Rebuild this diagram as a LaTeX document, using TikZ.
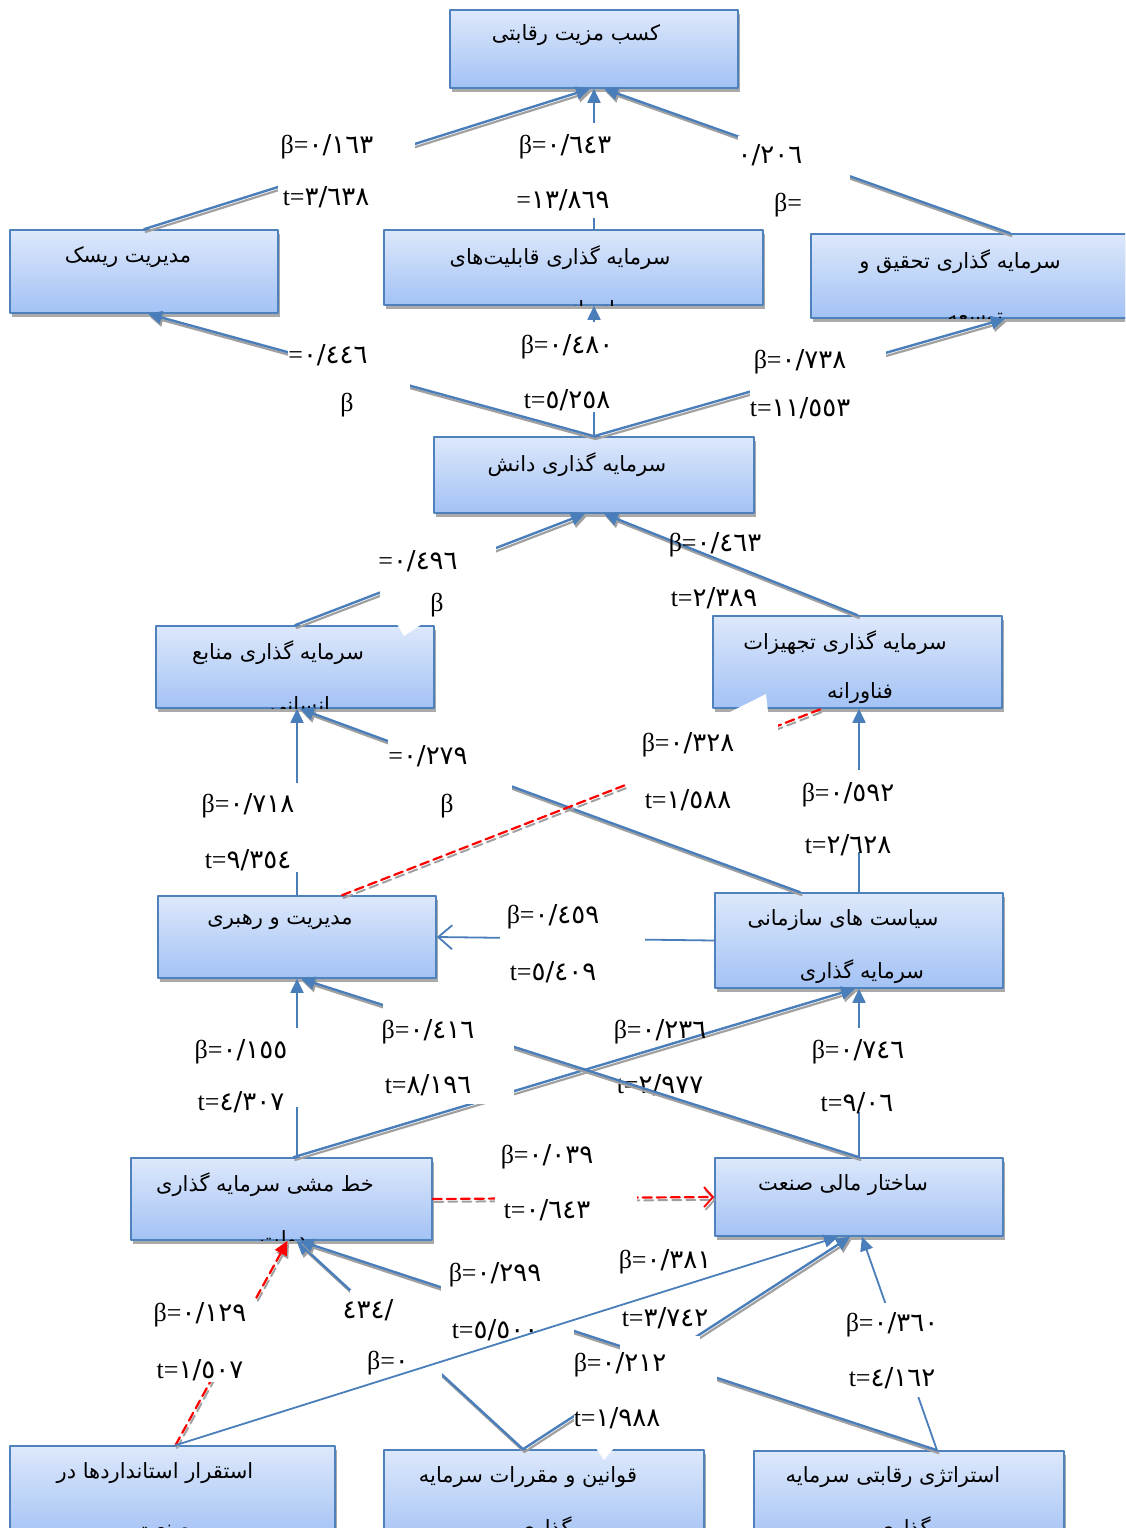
\documentclass[tikz,border=0pt]{standalone}
\usepackage{fontspec}
\setmainfont{Liberation Serif}
\newfontfamily\arabicfont[Script=Arabic]{DejaVu Sans}
\TeXXeTstate=1
\usetikzlibrary{arrows.meta,fit}
\definecolor{linkblue}{RGB}{74,126,187}
\definecolor{boxline}{RGB}{79,129,189}
\definecolor{boxtop}{RGB}{221,232,251}
\definecolor{boxbot}{RGB}{163,194,245}
\definecolor{shade}{RGB}{160,160,160}
\newcommand{\fa}[1]{{\arabicfont #1}}

\begin{document}
\begin{tikzpicture}[line cap=round,line join=round,x=1pt,y=-1pt,
  box/.style={draw=boxline,line width=1.6pt,top color=boxtop,bottom color=boxbot,inner sep=0pt,
    preaction={fill=shade!90,transform canvas={shift={(2pt,-4pt)}}}},
  btxt/.style={font=\arabicfont\fontsize{21}{25}\selectfont,inner sep=0pt},
  lbl/.style={font=\fontsize{26}{30}\selectfont,inner sep=0pt},
  gap/.style={fill=white,inner sep=0pt},
  link/.style={draw=linkblue,line width=1.8pt,-{Triangle[length=14pt,width=13pt]}},
  slink/.style={link,line width=2.4pt,preaction={draw=shade,line width=2.2pt,transform canvas={shift={(1.5pt,-2.8pt)}}}},
  dlink/.style={draw=red,line width=2.2pt,dash pattern=on 9pt off 5pt,
    preaction={draw=shade,line width=2pt,dash pattern=on 9pt off 5pt,transform canvas={shift={(1.5pt,-2.8pt)}}}},
  chev/.style={-{Straight Barb[length=14pt,width=24pt,line width=1.8pt]}}]
\useasboundingbox (0,0) rectangle (1125,1528);
\clip (0,0) rectangle (1125,1528);

% boxes
\node[box,minimum width=288pt,minimum height=78pt] (adv) at (594,49) {};
\node[box,minimum width=268pt,minimum height=83pt] (risk) at (144,271.5) {};
\node[box,minimum width=379pt,minimum height=75pt] (cap) at (573.5,267.5) {};
\node[box,minimum width=398pt,minimum height=84pt] (rd) at (1010,276) {};
\node[box,minimum width=320pt,minimum height=76pt] (know) at (594,475) {};
\node[box,minimum width=278pt,minimum height=82pt] (hum) at (295,667) {};
\node[box,minimum width=289pt,minimum height=92pt] (equip) at (857.5,662) {};
\node[box,minimum width=278pt,minimum height=82pt] (lead) at (297,937) {};
\node[box,minimum width=288pt,minimum height=95pt] (policy) at (859,940.5) {};
\node[box,minimum width=301pt,minimum height=82pt] (gov) at (281.5,1199) {};
\node[box,minimum width=288pt,minimum height=78pt] (fin) at (859,1197) {};
\node[box,minimum width=325pt,minimum height=94pt] (std) at (172.5,1493) {};
\node[box,minimum width=320pt,minimum height=95pt] (law) at (544,1497.5) {};
\node[box,minimum width=310pt,minimum height=94pt] (strat) at (909,1498) {};
\fill[white] (397,624) -- (422,624) -- (404,636) -- cycle;
\fill[white] (730,712) -- (768,712) -- (766,694) -- cycle;
\fill[white] (596,1448) -- (614,1448) -- (604,1460) -- cycle;

% box texts
\node[btxt] (advT) at (576,35) {\beginR کسب مزیت رقابتی\endR};
\node[btxt] (riskT) at (128,257) {\beginR مدیریت ریسک\endR};
\node[btxt] (capT) at (560,258) {\beginR سرمایه گذاری قابلیت‌های\endR};
\node[btxt] (rdT) at (960,262) {\beginR سرمایه گذاری تحقیق و\endR};
\node[btxt] (knowT) at (577,465) {\beginR سرمایه گذاری دانش\endR};
\node[btxt] (humT) at (278,653) {\beginR سرمایه گذاری منابع\endR};
\node[btxt] (equipT) at (845,643) {\beginR سرمایه گذاری تجهیزات\endR};
\node[btxt] (equipU) at (860,693) {\beginR فناورانه\endR};
\node[btxt] (leadT) at (280,922) {\beginR مدیریت و رهبری\endR};
\node[btxt] (policyT) at (843,920) {\beginR سیاست های سازمانی\endR};
\node[btxt] (policyU) at (862,972) {\beginR سرمایه گذاری\endR};
\node[btxt] (govT) at (265,1185) {\beginR خط مشی سرمایه گذاری\endR};
\node[btxt] (finT) at (843,1185) {\beginR ساختار مالی صنعت\endR};
\node[btxt] (stdT) at (155,1473) {\beginR استقرار استانداردها در\endR};
\node[btxt] (lawT) at (528,1477) {\beginR قوانین و مقررات سرمایه\endR};
\node[btxt] (stratT) at (893,1477) {\beginR استراتژی رقابتی سرمایه\endR};
\node[btxt,anchor=base] (stdU) at (163,1535) {\beginR صنعت\endR};
\node[btxt,anchor=base] (lawU) at (545,1535) {\beginR گذاری\endR};
\node[btxt,anchor=base] (stratU) at (904,1535) {\beginR گذاری\endR};
\begin{scope}
\clip (cap.south west) rectangle (cap.north east);
\node[btxt,anchor=base] (capU) at (585,316) {\beginR انسانی\endR};
\end{scope}
\begin{scope}
\clip (rd.south west) rectangle (rd.north east);
\node[btxt,anchor=base] (rdU) at (975,323) {\beginR توسعه\endR};
\end{scope}
\begin{scope}
\clip (hum.south west) rectangle (hum.north east);
\node[btxt,anchor=base] (humU) at (300,712) {\beginR انسانی\endR};
\end{scope}
\begin{scope}
\clip (gov.south west) rectangle (gov.north east);
\node[btxt,anchor=base] (govU) at (283,1246) {\beginR دولت\endR};
\end{scope}

% paths to the top box
\draw[slink] (risk.north) -- ([xshift=-4pt]adv.south);
\node[gap,fit={(278,132) (415,210)}] (g1) {};
\node[lbl] (b1) at (327,147) {β=\fa{٠/١٦٣}};
\node[lbl] (t1) at (326,197) {t=\fa{٣/٦٣٨}};
\draw[link] (cap.north -| adv.south) -- (adv.south);
\node[gap,fit={(515,123) (616,218)}] (g2) {};
\node[lbl] (b2) at (565,147) {β=\fa{٠/٦٤٣}};
\node[lbl] (t2) at (563,200) {=\fa{١٣/٨٦٩}};
\draw[slink] (rd.north) -- ([xshift=10pt]adv.south);
\node[gap,fit={(738,136) (850,215)}] (g3) {};
\node[lbl] (b3) at (770,155) {\fa{٠/٢٠٦}};
\node[lbl] (t3) at (788,205) {β=};

% paths from knowledge
\draw[slink] (know.north) -- ([xshift=4pt]risk.south);
\node[gap,fit={(288,335) (410,420)}] (g4) {};
\node[lbl] (b4) at (328,355) {=\fa{٠/٤٤٦}};
\node[lbl] (t4) at (347,405) {β};
\draw[link] (know.north) -- (know.north |- cap.south);
\node[gap,fit={(520,322) (616,412)}] (g5) {};
\node[lbl] (b5) at (567,347) {β=\fa{٠/٤٨٠}};
\node[lbl] (t5) at (567,400) {t=\fa{٥/٢٥٨}};
\draw[slink] (know.north) -- ([xshift=-5pt]rd.south);
\node[gap,fit={(750,340) (886,412)}] (g6) {};
\node[lbl] (b6) at (800,362) {β=\fa{٠/٧٣٨}};
\node[lbl] (t6) at (800,408) {t=\fa{١١/٥٥٣}};

% paths to knowledge
\draw[slink] (hum.north) -- ([xshift=-9pt]know.south);
\node[gap,fit={(380,540) (496,612)}] (g7) {};
\node[lbl] (b7) at (418,561) {=\fa{٠/٤٩٦}};
\node[lbl] (t7) at (437,605) {β};
\draw[slink] (equip.north) -- ([xshift=10pt]know.south);
\node[lbl] (b8) at (715,545) {β=\fa{٠/٤٦٣}};
\node[lbl] (t8) at (714,598) {t=\fa{٢/٣٨٩}};

% paths to human resources and equipment
\draw[link] (lead.north) -- (lead.north |- hum.south);
\node[gap,fit={(200,783) (300,872)}] (g9) {};
\node[lbl] (b9) at (248,806) {β=\fa{٠/٧١٨}};
\node[lbl] (t9) at (248,860) {t=\fa{٩/٣٥٤}};
\draw[slink] ([xshift=-59pt]policy.north) -- ([xshift=5pt]hum.south);
\node[gap,fit={(388,738) (512,820)}] (g10) {};
\node[lbl] (b10) at (428,756) {=\fa{٠/٢٧٩}};
\node[lbl] (t10) at (447,806) {β};
\draw[link] (policy.north) -- (policy.north |- equip.south);
\node[gap,fit={(800,770) (900,852)}] (g11) {};
\node[lbl] (b11) at (848,795) {β=\fa{٠/٥٩٢}};
\node[lbl] (t11) at (848,845) {t=\fa{٢/٦٢٨}};
\draw[dlink] ([xshift=45pt]lead.north) -- ([xshift=-36pt]equip.south);
\node[gap,fit={(628,722) (778,812)}] (g12) {};
\node[lbl] (b12) at (688,745) {β=\fa{٠/٣٢٨}};
\node[lbl] (t12) at (688,800) {t=\fa{١/٥٨٨}};

% paths to leadership and policy
\draw[draw=linkblue,line width=1.8pt,chev] (policy.west) -- (lead.east);
\node[gap,fit={(500,900) (645,985)}] (g13) {};
\node[lbl] (b13) at (553,917) {β=\fa{٠/٤٥٩}};
\node[lbl] (t13) at (553,972) {t=\fa{٥/٤٠٩}};
\draw[link] (gov.north -| lead.south) -- (lead.south);
\node[gap,fit={(190,1028) (305,1107)}] (g14) {};
\node[lbl] (b14) at (241,1052) {β=\fa{٠/١٥٥}};
\node[lbl] (t14) at (241,1102) {t=\fa{٤/٣٠٧}};
\draw[slink] ([xshift=12pt]gov.north) -- ([xshift=-4pt]policy.south);
\node[lbl] (b16) at (660,1032) {β=\fa{٠/٢٣٦}};
\node[lbl] (t16) at (660,1085) {t=\fa{٢/٩٧٧}};
\draw[slink] (fin.north) -- ([xshift=4pt]lead.south);
\node[gap,fit={(383,1003) (514,1104)}] (g15) {};
\node[lbl] (b15) at (428,1032) {β=\fa{٠/٤١٦}};
\node[lbl] (t15) at (428,1085) {t=\fa{٨/١٩٦}};
\draw[link] (fin.north) -- (fin.north |- policy.south);
\node[gap,fit={(805,1028) (912,1112)}] (g17) {};
\node[lbl] (b17) at (858,1052) {β=\fa{٠/٧٤٦}};
\node[lbl] (t17) at (857,1103) {t=\fa{٩/٠٦}};
\draw[dlink,-{Straight Barb[length=9pt,width=20pt,line width=1.8pt]}] (gov.east) -- (fin.west);
\node[gap,fit={(495,1140) (637,1225)}] (g18) {};
\node[lbl] (b18) at (547,1157) {β=\fa{٠/٠٣٩}};
\node[lbl] (t18) at (547,1210) {t=\fa{٠/٦٤٣}};

% paths from the bottom row
\draw[dlink,-{Triangle[length=14pt,width=13pt]}] ([xshift=3pt]std.north) -- ([xshift=6pt]gov.south);
\node[gap,fit={(150,1298) (256,1382)}] (g19) {};
\node[lbl] (b19) at (200,1315) {β=\fa{٠/١٢٩}};
\node[lbl] (t19) at (200,1370) {t=\fa{١/٥٠٧}};
\draw[slink] ([xshift=-21pt]law.north) -- ([xshift=15pt]gov.south);
\node[gap,fit={(350,1290) (442,1380)}] (g20) {};
\node[lbl] (b20) at (368,1310) {\fa{/٤٣٤}};
\node[lbl] (t20) at (388,1363) {β=\fa{٠}};
\draw[slink] ([xshift=-21pt]law.north) -- ([xshift=-9pt]fin.south);
\node[gap,fit={(574,1336) (700,1432)}] (g23) {};
\draw[slink] ([xshift=28pt]strat.north) -- ([xshift=18pt]gov.south);
\node[gap,fit={(441,1260) (574,1336)}] (g22) {};
\node[gap,fit={(620,1342) (717,1384)}] (h22) {};
\node[lbl] (b23) at (620,1365) {β=\fa{٠/٢١٢}};
\node[lbl] (t23) at (617,1418) {t=\fa{١/٩٨٨}};
\node[lbl] (b22) at (495,1275) {β=\fa{٠/٢٩٩}};
\node[lbl] (t22) at (495,1330) {t=\fa{٥/٥٠٠}};
\draw[link] ([xshift=3pt]std.north) -- ([xshift=-21pt]fin.south);
\node[lbl] (b21) at (665,1262) {β=\fa{٠/٣٨١}};
\node[lbl] (t21) at (665,1318) {t=\fa{٣/٧٤٢}};
\draw[link] ([xshift=28pt]strat.north) -- ([xshift=3pt]fin.south);
\node[gap,fit={(845,1303) (942,1397)}] (g24) {};
\node[lbl] (b24) at (892,1325) {β=\fa{٠/٣٦٠}};
\node[lbl] (t24) at (892,1378) {t=\fa{٤/١٦٢}};
\end{tikzpicture}
\end{document}
